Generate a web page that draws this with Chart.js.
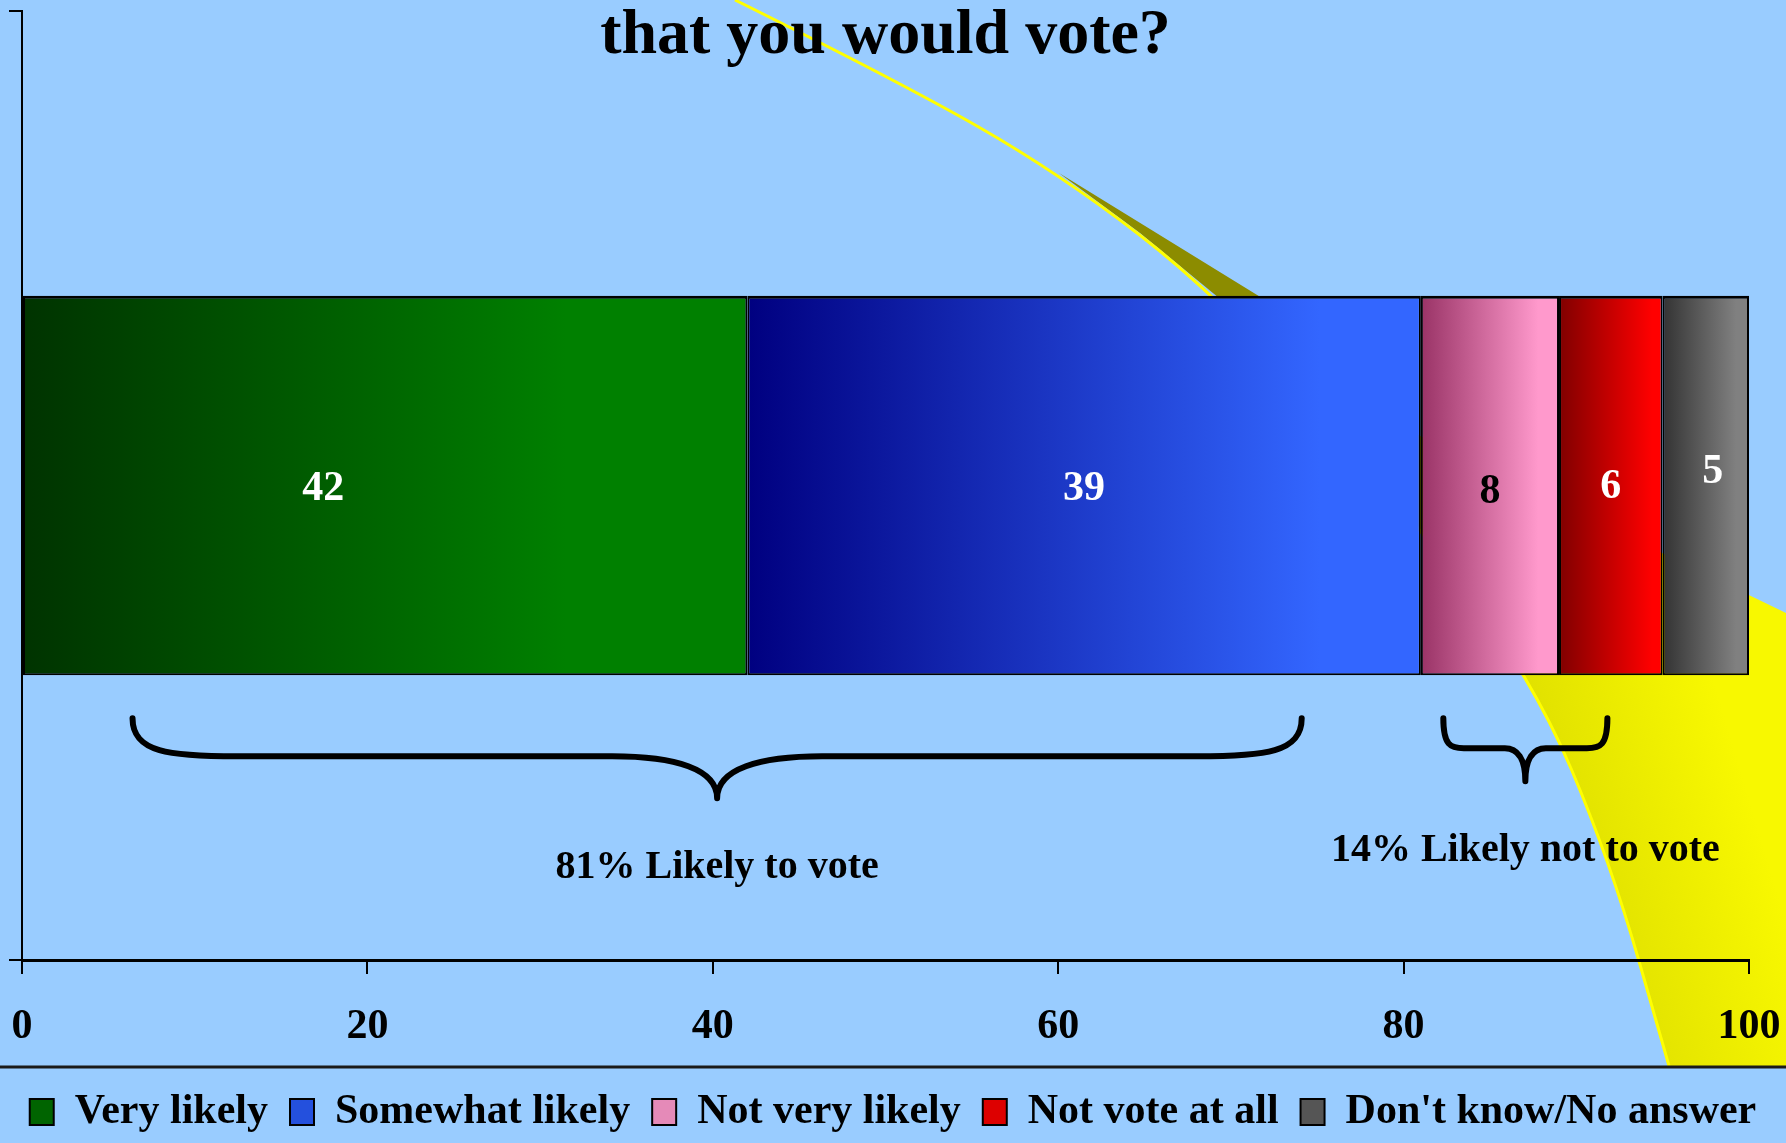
<!DOCTYPE html>
<html>
<head>
<meta charset="utf-8">
<title>Likely to vote</title>
<script src="https://cdn.jsdelivr.net/npm/chart.js@4/dist/chart.umd.min.js"></script>
<style>
  html, body { margin: 0; padding: 0; background: #99ccff; }
  #wrap { width: 1786px; height: 1143px; position: relative; }
</style>
</head>
<body>
<div id="wrap"><canvas id="chart"></canvas></div>
<script>
// values
const categories = [''];
const seriesNames = ['Very likely', 'Somewhat likely', 'Not very likely', 'Not vote at all', "Don't know/No answer"];
const seriesValues = [42, 39, 8, 6, 5];
const xTicks = [0, 20, 40, 60, 80, 100];
const groupLabels = ['81% Likely to vote', '14% Likely not to vote'];
const braceFrom = [6.4, 82.3];
const braceTo = [74.1, 91.8];
const titleText = 'that you would vote?';

const SERIF = "'Liberation Serif', 'Times New Roman', serif";

// gradient colours per series: dark -> light, and where the ramp ends
const gradFrom = ['#003300', '#000080', '#993366', '#800000', '#333333'];
const gradTo = ['#008000', '#3366ff', '#ff99cc', '#ff0000', '#808080'];
const gradStop = [0.75, 0.85, 0.85, 0.9, 0.85];
const legendFill = ['#006400', '#2450dd', '#e58ab8', '#dd0000', '#555555'];
const labelColor = ['#fff', '#fff', '#000', '#fff', '#fff'];
const labelDx = [-62, 0, 0, 0, 7];
const labelDy = [4, 4, 7, 2, -13];

function startOf(i) {
  let s = 0;
  for (let k = 0; k < i; k++) s += seriesValues[k];
  return s;
}

function barGradient(i) {
  return function (ctx) {
    const chart = ctx.chart;
    if (!chart.chartArea) return gradTo[i];
    const x = chart.scales.x;
    const x0 = x.getPixelForValue(startOf(i));
    const x1 = x.getPixelForValue(startOf(i) + seriesValues[i]);
    const g = chart.ctx.createLinearGradient(x0, 0, x1, 0);
    g.addColorStop(0, gradFrom[i]);
    g.addColorStop(gradStop[i], gradTo[i]);
    g.addColorStop(1, gradTo[i]);
    return g;
  };
}

function curveThrough(ctx, pts) {
  ctx.moveTo(pts[0][0], pts[0][1]);
  for (let i = 1; i < pts.length - 1; i++) {
    const mx = (pts[i][0] + pts[i + 1][0]) / 2;
    const my = (pts[i][1] + pts[i + 1][1]) / 2;
    ctx.quadraticCurveTo(pts[i][0], pts[i][1], mx, my);
  }
  const last = pts[pts.length - 1];
  ctx.lineTo(last[0], last[1]);
}

// background swoosh of the slide
const backdrop = {
  id: 'backdrop',
  beforeDraw(chart) {
    const ctx = chart.ctx;
    const bottom = chart.legend.top - 3;
    ctx.save();
    ctx.fillStyle = '#99ccff';
    ctx.fillRect(0, 0, chart.width, chart.height);

    // olive shadow wedge
    ctx.fillStyle = '#8c8c00';
    ctx.beginPath();
    ctx.moveTo(1059, 173);
    ctx.lineTo(1140, 233);
    ctx.lineTo(1219, 298);
    ctx.lineTo(1262, 298);
    ctx.closePath();
    ctx.fill();

    // yellow fill
    const g = ctx.createLinearGradient(1520, 760, 1720, 700);
    g.addColorStop(0, '#dede00');
    g.addColorStop(1, '#f8f800');
    ctx.fillStyle = g;
    ctx.beginPath();
    curveThrough(ctx, [[1284, 370], [1390, 490], [1532, 677], [1610, 860], [1669, bottom]]);
    ctx.lineTo(chart.width, bottom);
    ctx.lineTo(chart.width, 613);
    ctx.closePath();
    ctx.fill();

    // thin yellow edge
    ctx.strokeStyle = '#ffff00';
    ctx.lineWidth = 3;
    ctx.beginPath();
    curveThrough(ctx, [[735, 0], [900, 82], [1059, 173], [1219, 296], [1390, 490], [1532, 677], [1610, 860], [1669, bottom]]);
    ctx.stroke();
    ctx.restore();
  }
};

const overlay = {
  id: 'overlay',
  afterDatasetsDraw(chart) {
    const ctx = chart.ctx;
    ctx.save();
    ctx.font = 'bold 42px ' + SERIF;
    ctx.textAlign = 'center';
    ctx.textBaseline = 'middle';
    chart.data.datasets.forEach((ds, i) => {
      const el = chart.getDatasetMeta(i).data[0];
      const c = el.getCenterPoint();
      ctx.fillStyle = labelColor[i];
      ctx.fillText(String(ds.data[0]), c.x + labelDx[i], c.y + labelDy[i]);
    });
    ctx.restore();
  },
  afterDraw(chart) {
    const ctx = chart.ctx;
    const x = chart.scales.x;
    const area = chart.chartArea;
    const bar = chart.getDatasetMeta(0).data[0];
    const barBottom = bar.y + bar.height / 2;
    ctx.save();

    // title (second line of the question)
    ctx.fillStyle = '#000';
    ctx.font = 'bold 64px ' + SERIF;
    ctx.textAlign = 'center';
    ctx.textBaseline = 'alphabetic';
    ctx.fillText(titleText, (area.left + area.right) / 2, 53);

    // braces and group labels
    ctx.strokeStyle = '#000';
    ctx.lineWidth = 6;
    ctx.lineCap = 'round';
    ctx.lineJoin = 'round';
    ctx.font = 'bold 40px ' + SERIF;
    ctx.textBaseline = 'middle';
    braceFrom.forEach((from, i) => {
      const x0 = x.getPixelForValue(from);
      const x1 = x.getPixelForValue(braceTo[i]);
      const xm = (x0 + x1) / 2;
      const half = (x1 - x0) / 2;
      const big = half > 200;
      const top = barBottom + 43;
      const drop = big ? 38 : 30;
      const tip = big ? 42 : 33;
      const r = Math.min(105, half * 0.25);
      const y1 = top + drop;
      const y2 = y1 + tip;
      ctx.beginPath();
      ctx.moveTo(x0, top);
      ctx.bezierCurveTo(x0, y1 - drop * 0.1, x0 + r * 0.35, y1, x0 + r, y1);
      ctx.lineTo(xm - r, y1);
      ctx.bezierCurveTo(xm - r * 0.4, y1, xm, y1 + tip * 0.3, xm, y2);
      ctx.bezierCurveTo(xm, y1 + tip * 0.3, xm + r * 0.4, y1, xm + r, y1);
      ctx.lineTo(x1 - r, y1);
      ctx.bezierCurveTo(x1 - r * 0.35, y1, x1, y1 - drop * 0.1, x1, top);
      ctx.stroke();
      ctx.fillText(groupLabels[i], xm, y2 + 69);
    });

    // rule above the legend
    ctx.strokeStyle = '#1a1a1a';
    ctx.lineWidth = 3;
    ctx.beginPath();
    ctx.moveTo(0, chart.legend.top - 2);
    ctx.lineTo(chart.width, chart.legend.top - 2);
    ctx.stroke();
    ctx.restore();
  }
};

const data = {
  labels: categories,
  datasets: seriesNames.map((name, i) => ({
    label: name,
    data: [seriesValues[i]],
    backgroundColor: barGradient(i),
    borderColor: '#000',
    borderWidth: { top: 3, bottom: 2, left: 2, right: 2 },
    borderSkipped: false,
    barPercentage: 0.5,
    categoryPercentage: 0.8
  }))
};

const config = {
  type: 'bar',
  data: data,
  options: {
    indexAxis: 'y',
    responsive: true,
    maintainAspectRatio: false,
    animation: false,
    devicePixelRatio: 1,
    layout: { padding: { top: 11, left: 0, right: 0, bottom: 0 } },
    scales: {
      x: {
        type: 'linear',
        stacked: true,
        min: 0,
        max: 100,
        afterBuildTicks: (s) => { s.ticks = xTicks.map(v => ({ value: v })); },
        afterFit: (s) => {
          s.height = 109;
          s.paddingLeft = 0;
          s.paddingRight = 37;
        },
        ticks: {
          color: '#000',
          padding: 28,
          maxRotation: 0,
          font: { family: SERIF, size: 42, weight: 'bold' }
        },
        grid: { drawOnChartArea: false, drawTicks: true, tickLength: 14, color: '#000', lineWidth: 2 },
        border: { color: '#000', width: 3 }
      },
      y: {
        type: 'category',
        stacked: true,
        afterFit: (s) => { s.width = 22; },
        ticks: { display: false },
        grid: { drawOnChartArea: false, drawTicks: true, tickLength: 13, color: '#000', lineWidth: 2 },
        border: { color: '#000', width: 2 }
      }
    },
    plugins: {
      title: { display: false },
      tooltip: { enabled: false },
      legend: {
        position: 'bottom',
        labels: {
          color: '#000',
          boxWidth: 24,
          boxHeight: 26,
          padding: 22,
          font: { family: SERIF, size: 42, weight: 'bold' },
          generateLabels: () => seriesNames.map((name, i) => ({
            text: name,
            fillStyle: legendFill[i],
            strokeStyle: '#000',
            lineWidth: 2,
            hidden: false,
            datasetIndex: i
          }))
        }
      }
    }
  },
  plugins: [backdrop, overlay]
};

var chart = new Chart(document.getElementById('chart').getContext('2d'), config);
</script>
</body>
</html>
